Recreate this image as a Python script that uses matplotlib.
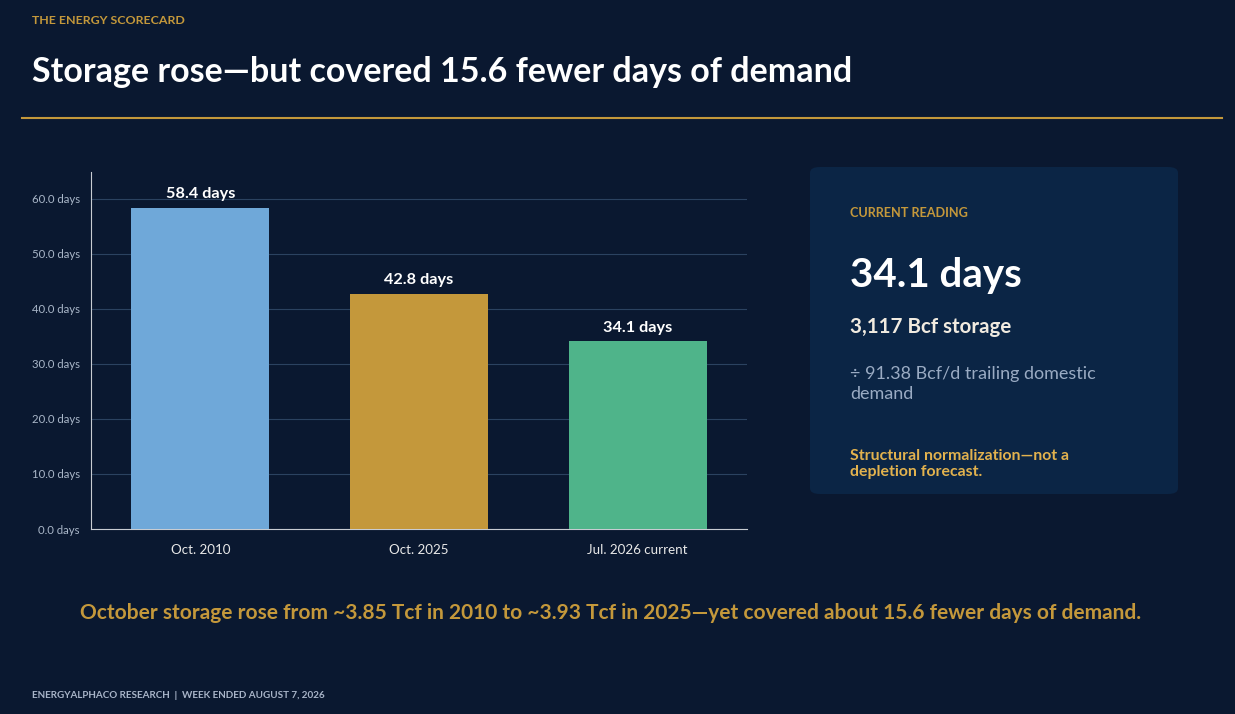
import matplotlib
matplotlib.use("Agg")
import matplotlib.pyplot as plt
from matplotlib.patches import FancyBboxPatch
from matplotlib.lines import Line2D

# data
categories = ["Oct. 2010", "Oct. 2025", "Jul. 2026 current"]
days_cover = [58.4, 42.8, 34.1]
bar_colors = ["#6fa8d9", "#c4983b", "#4fb48a"]
y_ticks = [0, 10, 20, 30, 40, 50, 60]

BG = "#0a1830"
PANEL = "#0b2545"
GOLD = "#c4983b"
plt.rcParams["font.family"] = ["Lato", "DejaVu Sans"]

fig = plt.figure(figsize=(12.35, 7.14), dpi=100, facecolor=BG)

# header
fig.text(32 / 1235, 1 - 21 / 714, "THE ENERGY SCORECARD", color=GOLD,
         fontsize=8.9, fontweight="bold", va="center", ha="left")
fig.text(32 / 1235, 1 - 72 / 714, "Storage rose\u2014but covered 15.6 fewer days of demand",
         color="white", fontsize=24.5, fontweight="bold", va="center", ha="left")
fig.add_artist(Line2D([22 / 1235, 1222 / 1235], [1 - 118 / 714] * 2, color=GOLD, lw=1.5))

# bar chart
ax = fig.add_axes([91 / 1235, 1 - 529 / 714, 656 / 1235, 357 / 714])
ax.set_facecolor(BG)
x = range(len(categories))
bars = ax.bar(x, days_cover, width=0.63, color=bar_colors, zorder=3)
for b, v in zip(bars, days_cover):
    ax.text(b.get_x() + b.get_width() / 2, v + 1.2, f"{v:.1f} days", ha="center", va="bottom",
            color="white", fontsize=11.7, fontweight="bold")
ax.set_xlim(-0.5, 2.5)
ax.set_ylim(0, 64.9)
ax.set_yticks(y_ticks)
ax.set_yticklabels([f"{t:.1f} days" for t in y_ticks], color="#a9b6c8", fontsize=8.2)
ax.set_xticks(list(x))
ax.set_xticklabels(categories, color="#e8e8e8", fontsize=9.6)
ax.tick_params(axis="y", length=0, pad=8)
ax.tick_params(axis="x", length=0, pad=10.5)
ax.grid(axis="y", color="#2b4260", lw=0.8, zorder=0)
for s in ["top", "right"]:
    ax.spines[s].set_visible(False)
ax.spines["left"].set_color("#c8ccd2")
ax.spines["bottom"].set_color("#c8ccd2")

# side panel
panel = FancyBboxPatch((810 / 1235, 1 - 494 / 714), 368 / 1235, 327 / 714,
                       boxstyle="round,pad=0,rounding_size=0.008", transform=fig.transFigure,
                       facecolor=PANEL, edgecolor="none")
fig.add_artist(panel)
px = 850 / 1235
fig.text(px, 1 - 213 / 714, "CURRENT READING", color=GOLD, fontsize=9.1, fontweight="bold", va="center")
fig.text(px, 1 - 275 / 714, "34.1 days", color="white", fontsize=29, fontweight="bold", va="center")
fig.text(px, 1 - 327 / 714, "3,117 Bcf storage", color="#f1ebe0", fontsize=14.8, fontweight="bold", va="center")
fig.text(px, 1 - 384 / 714, "\u00f7 91.38 Bcf/d trailing domestic\ndemand", color="#9aabc3", fontsize=13,
         va="center", linespacing=1.3)
fig.text(px, 1 - 464 / 714, "Structural normalization\u2014not a\ndepletion forecast.", color="#e2b24e",
         fontsize=11.4, fontweight="bold", va="center", linespacing=1.2)

# takeaway + footer
fig.text(611 / 1235, 1 - 613 / 714,
         "October storage rose from ~3.85 Tcf in 2010 to ~3.93 Tcf in 2025\u2014yet covered about 15.6 fewer days of demand.",
         color=GOLD, fontsize=15, fontweight="bold", ha="center", va="center")
fig.text(32 / 1235, 1 - 695 / 714, "ENERGYALPHACO RESEARCH  |  WEEK ENDED AUGUST 7, 2026", color="#a8b4c8",
         fontsize=7.1, fontweight="bold", va="center")

fig.savefig("out.png", dpi=100, facecolor=BG)
